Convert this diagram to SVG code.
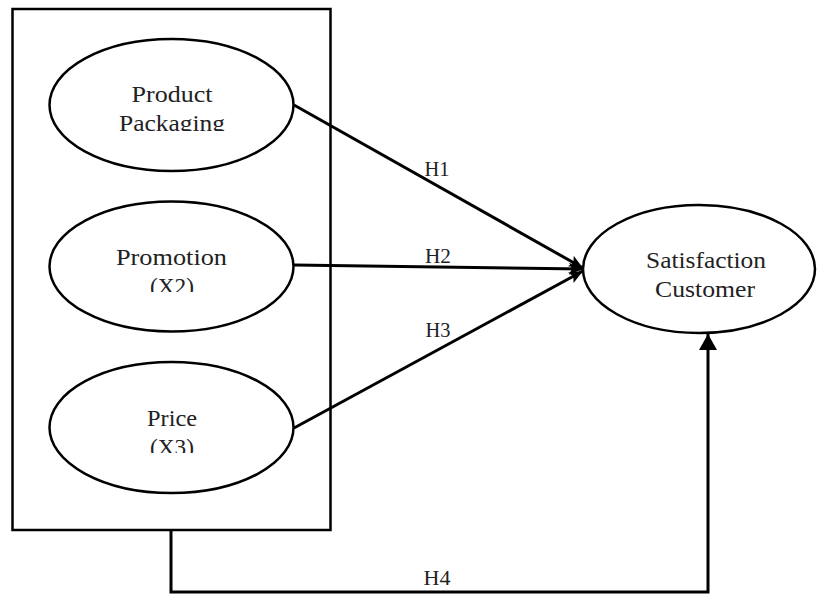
<svg xmlns="http://www.w3.org/2000/svg" width="817" height="594" viewBox="0 0 817 594">
<style>
.box{fill:none;stroke:#000;stroke-width:2.5}
.ell{fill:#fff;stroke:#000;stroke-width:2.5}
.t{font-family:"Liberation Serif","Times New Roman",serif;font-size:23px;fill:#222;text-anchor:middle}
.h{font-family:"Liberation Serif","Times New Roman",serif;font-size:20px;fill:#222;text-anchor:middle}
.c{fill:none;stroke:#000;stroke-width:3}
</style>
<defs>
<marker id="ah" viewBox="0 0 14 12" refX="14" refY="6" markerWidth="14" markerHeight="12" markerUnits="userSpaceOnUse" orient="auto">
<path d="M0,0 L14,6 L0,12 L3,6 Z" fill="#000"/>
</marker>
<marker id="ah2" viewBox="0 0 16 18" refX="16" refY="9" markerWidth="16" markerHeight="18" markerUnits="userSpaceOnUse" orient="auto">
<path d="M0,0 L16,9 L0,18 Z" fill="#000"/>
</marker>
<clipPath id="c1"><rect x="0" y="0" width="817" height="131"/></clipPath>
<clipPath id="c2"><rect x="0" y="0" width="817" height="292"/></clipPath>
<clipPath id="c3"><rect x="0" y="0" width="817" height="453"/></clipPath>
</defs>
<rect id="group-box" class="box" x="12.5" y="9" width="318" height="521"/>
<g id="connectors">
<line class="c" x1="294" y1="105" x2="583" y2="268" marker-end="url(#ah)"/>
<line class="c" x1="294" y1="265" x2="583" y2="269" marker-end="url(#ah)"/>
<line class="c" x1="294" y1="428" x2="583" y2="271" marker-end="url(#ah)"/>
<polyline class="c" points="171,530 171,592 708,592 708,334" marker-end="url(#ah2)"/>
<text class="h" x="437" y="176" textLength="25" lengthAdjust="spacingAndGlyphs">H1</text>
<text class="h" x="438" y="263" textLength="26" lengthAdjust="spacingAndGlyphs">H2</text>
<text class="h" x="438" y="337" textLength="25" lengthAdjust="spacingAndGlyphs">H3</text>
<text class="h" x="437" y="585" textLength="27" lengthAdjust="spacingAndGlyphs">H4</text>
</g>
<g id="node-packaging">
<ellipse class="ell" cx="171.5" cy="105" rx="122" ry="66"/>
<text class="t" x="172" y="102" textLength="81" lengthAdjust="spacingAndGlyphs">Product</text>
<text class="t" x="172" y="131" textLength="106" lengthAdjust="spacingAndGlyphs" clip-path="url(#c1)">Packaging</text>
</g>
<g id="node-promotion">
<ellipse class="ell" cx="171.5" cy="266.5" rx="122" ry="65"/>
<text class="t" x="171.5" y="265" textLength="111" lengthAdjust="spacingAndGlyphs">Promotion</text>
<text class="t" x="172" y="294" textLength="44" lengthAdjust="spacingAndGlyphs" clip-path="url(#c2)">(X2)</text>
</g>
<g id="node-price">
<ellipse class="ell" cx="171.5" cy="427.5" rx="122" ry="65.5"/>
<text class="t" x="172" y="426" textLength="50" lengthAdjust="spacingAndGlyphs">Price</text>
<text class="t" x="172" y="455" textLength="44" lengthAdjust="spacingAndGlyphs" clip-path="url(#c3)">(X3)</text>
</g>
<g id="node-satisfaction">
<ellipse class="ell" cx="699" cy="269" rx="116" ry="64"/>
<text class="t" x="706" y="268" textLength="120" lengthAdjust="spacingAndGlyphs">Satisfaction</text>
<text class="t" x="705" y="297" textLength="100" lengthAdjust="spacingAndGlyphs">Customer</text>
</g>
</svg>
